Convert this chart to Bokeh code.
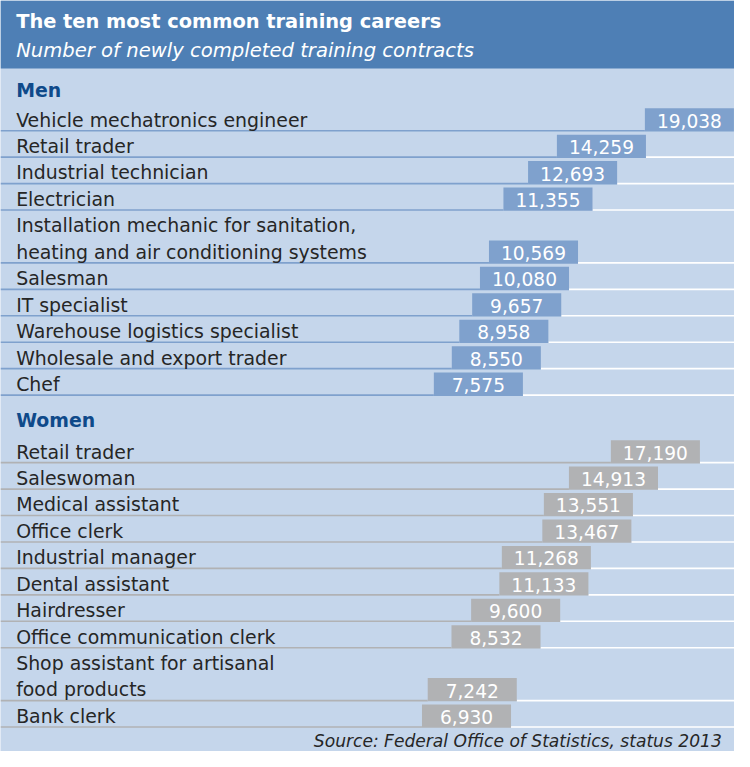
from bokeh.plotting import figure
from bokeh.models import Range1d, ColumnDataSource
from bokeh.embed import file_html
from bokeh.resources import INLINE
from bokeh.core.properties import value

# ---------------- data ----------------
title_text = "The ten most common training careers"
subtitle_text = "Number of newly completed training contracts"
source_text = "Source: Federal Office of Statistics, status 2013"

men_label = "Men"
men_jobs = [
    "Vehicle mechatronics engineer",
    "Retail trader",
    "Industrial technician",
    "Electrician",
    "Installation mechanic for sanitation,\nheating and air conditioning systems",
    "Salesman",
    "IT specialist",
    "Warehouse logistics specialist",
    "Wholesale and export trader",
    "Chef",
]
men_values = [19038, 14259, 12693, 11355, 10569, 10080, 9657, 8958, 8550, 7575]

women_label = "Women"
women_jobs = [
    "Retail trader",
    "Saleswoman",
    "Medical assistant",
    "Office clerk",
    "Industrial manager",
    "Dental assistant",
    "Hairdresser",
    "Office communication clerk",
    "Shop assistant for artisanal\nfood products",
    "Bank clerk",
]
women_values = [17190, 14913, 13551, 13467, 11268, 11133, 9600, 8532, 7242, 6930]

# ---------------- layout (reference pixel units) ----------------
REF_W, REF_H = 750, 767
W, H = 734, 751
S = W / REF_W

PX_PER_UNIT = 0.018811      # horizontal pixels per training contract
ZERO_PX = 391.3             # pixel position of value 0


def to_x(px):
    return (px - ZERO_PX) / PX_PER_UNIT


X0, X1 = to_x(0), to_x(REF_W)
BAR_UNITS = 91 / PX_PER_UNIT
ROW_H = 27
BAR_H = 23
LEFT_PX = 16

HEADER = "#4e7fb5"
BG = "#c5d6eb"
MEN_BAR = "#7fa1cd"
WOMEN_BAR = "#b1b2b4"
TEXT = "#262626"
SECTION = "#0f4a8a"
FONT = "DejaVu Sans"


def fs(px):
    return f"{px * S:.1f}px"


def off(px):
    # correction of the alphabetic baseline placement (screen px)
    return -0.33 * px * S


def txt(x, y, t, size, color=TEXT, style="normal", align="left", source=None):
    kw = dict(text_color=color, text_font=value(FONT), text_font_style=style,
              text_font_size=fs(size), text_baseline="alphabetic",
              text_align=align, y_offset=off(size))
    if source is not None:
        return p.text(x=x, y=y, text=t, source=source, **kw)
    return p.text(x=x, y=y, text=t, **kw)


p = figure(width=W, height=H, x_range=Range1d(X0, X1), y_range=Range1d(REF_H, 0),
           output_backend="svg", toolbar_location=None, min_border=0,
           x_axis_type=None, y_axis_type=None)
p.grid.visible = False
p.outline_line_color = None
p.background_fill_color = BG
p.border_fill_color = BG

# header band
p.quad(left=[X0], right=[X1], top=[0], bottom=[69.5], fill_color=HEADER, line_color=None)
txt([to_x(LEFT_PX)], [27.5], [title_text], 19.8, color="white", style="bold")
txt([to_x(LEFT_PX)], [58], [subtitle_text], 20, color="white", style="italic")

sections = [
    (men_label, men_jobs, men_values, MEN_BAR, 98, 106),
    (women_label, women_jobs, women_values, WOMEN_BAR, 435, 445),
]

for name, jobs, vals, color, head_y, top in sections:
    txt([to_x(LEFT_PX)], [head_y], [name], 19.3, color=SECTION, style="bold")
    lx, ly, lt = [], [], []
    bottoms = []
    y = top
    for job in jobs:
        lines = job.split("\n")
        n = len(lines)
        bottom = y + n * ROW_H
        for i, ln in enumerate(lines):
            lx.append(to_x(LEFT_PX))
            ly.append(bottom - 5 - (n - 1 - i) * ROW_H)
            lt.append(ln)
        bottoms.append(bottom)
        y = bottom
    lefts = [v - BAR_UNITS for v in vals]
    src = ColumnDataSource(dict(
        left=lefts, right=vals, bottom=bottoms,
        bar_top=[b - BAR_H for b in bottoms],
        bar_bottom=[b + 0.8 for b in bottoms],
        x0=[X0] * len(vals), x1=[X1] * len(vals),
        mid=[v - BAR_UNITS / 2 for v in vals],
        ty=[b - 4 for b in bottoms],
        lab=[f"{v:,}" for v in vals],
    ))
    p.segment(x0="x0", x1="left", y0="bottom", y1="bottom", line_color=color,
              line_width=1.6, source=src)
    p.segment(x0="right", x1="x1", y0="bottom", y1="bottom", line_color="white",
              line_width=1.6, source=src)
    p.quad(left="left", right="right", top="bar_top", bottom="bar_bottom",
           fill_color=color, line_color=None, source=src)
    txt("mid", "ty", "lab", 19, color="white", align="center", source=src)
    txt(lx, ly, lt, 19.3)

txt([to_x(737)], [762], [source_text], 17.5, style="italic", align="right")

open("out.html", "w").write(file_html(p, INLINE))
